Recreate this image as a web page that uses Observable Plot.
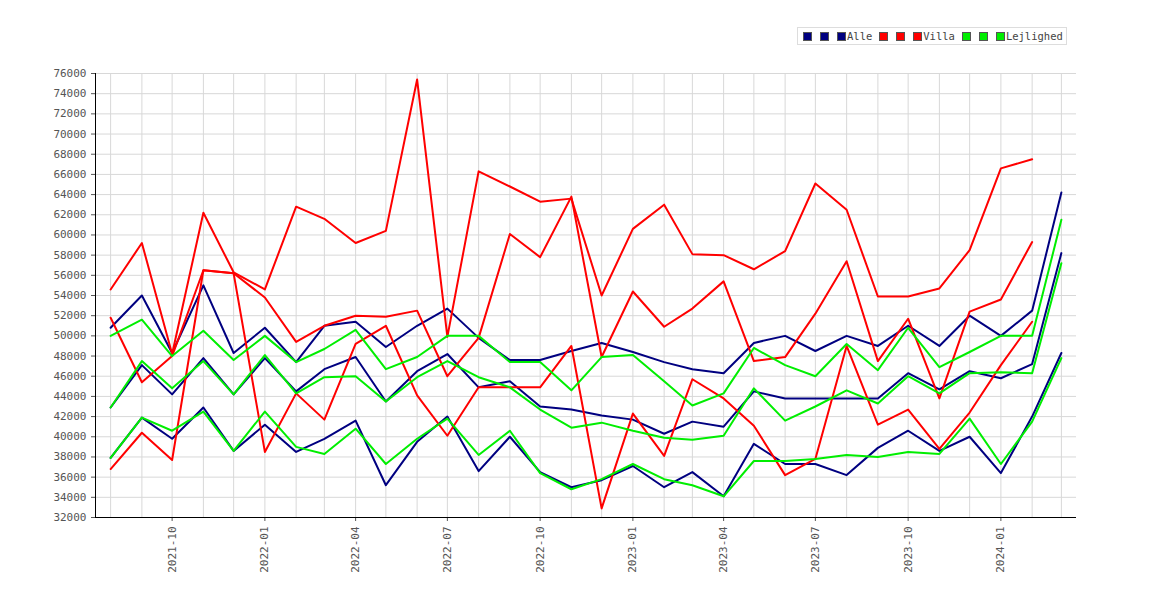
<!DOCTYPE html>
<html><head><meta charset="utf-8">
<script src="https://cdn.jsdelivr.net/npm/d3@7"></script>
<script src="https://cdn.jsdelivr.net/npm/@observablehq/plot@0.6"></script>
<style>
body{margin:0;background:#fff;font-family:"DejaVu Sans Mono",monospace;}
#wrap{position:relative;width:1170px;height:600px;}
#legend{position:absolute;left:797px;top:27px;border:1px solid #ddd;padding:2px 3px;font-size:10.5px;color:#444;display:flex;align-items:center;background:#fff;}
#legend span.sw{display:inline-block;width:7px;height:7px;border:1px solid #555;margin:0 1px 0 7px;}
#legend span.sw:first-child{margin-left:2px;}
</style></head><body>
<div id="wrap"><div id="chart"></div><div id="legend"></div></div>
<script>
const startMonth = "2021-08";
const alleHigh = [50.8,54.0,48.3,55.0,48.3,50.8,47.4,51.0,51.4,48.9,51.0,52.7,49.8,47.6,47.6,48.5,49.3,48.4,47.4,46.7,46.3,49.3,50.0,48.5,50.0,49.0,51.0,49.0,52.0,50.0,52.5,64.2];
const alleMid = [42.9,47.1,44.2,47.8,44.2,47.8,44.5,46.7,47.9,43.5,46.5,48.2,44.9,45.5,43.0,42.7,42.1,41.7,40.3,41.5,41.0,44.5,43.8,43.8,43.8,43.8,46.3,44.7,46.5,45.8,47.2,58.2];
const alleLow = [37.9,41.9,39.8,42.9,38.6,41.2,38.5,39.8,41.6,35.2,39.5,42.0,36.6,40.0,36.5,35.0,35.7,37.1,35.0,36.5,34.1,39.3,37.3,37.3,36.2,38.9,40.6,38.6,40.0,36.4,42.0,48.3];
const villaHigh = [54.6,59.2,48.2,62.2,56.3,54.6,62.8,61.6,59.2,60.4,75.4,49.9,66.3,64.8,63.3,63.6,54.0,60.6,63.0,58.1,58.0,56.6,58.4,65.1,62.5,53.9,53.9,54.7,58.5,66.6,67.5,null];
const villaMid = [51.8,45.4,48.0,56.5,56.2,53.8,49.4,51.0,52.0,51.9,52.5,46.0,49.8,60.1,57.8,63.8,47.9,54.4,50.9,52.7,55.4,47.5,47.9,52.2,57.4,47.5,51.7,43.8,52.4,53.6,59.3,null];
const villaLow = [36.8,40.4,37.7,56.5,56.2,38.5,44.3,41.7,49.2,51.0,44.1,40.1,44.9,44.9,44.9,49.0,32.9,42.3,38.1,45.7,43.8,41.1,36.2,37.8,49.0,41.2,42.7,38.8,42.4,47.1,51.4,null];
const lejHigh = [50.0,51.6,48.0,50.5,47.6,50.0,47.4,48.7,50.6,46.7,47.9,50.0,50.0,47.4,47.4,44.6,47.9,48.1,45.5,43.1,44.3,48.8,47.1,46.0,49.2,46.6,50.8,46.9,48.4,50.0,50.0,61.5];
const lejMid = [42.9,47.5,44.8,47.5,44.2,48.1,44.3,45.9,46.0,43.5,45.9,47.5,45.9,44.9,42.7,40.9,41.4,40.6,39.9,39.7,40.1,44.8,41.6,43.0,44.6,43.3,46.0,44.3,46.3,46.4,46.3,57.2];
const lejLow = [37.9,41.9,40.6,42.5,38.6,42.5,39.0,38.3,40.8,37.3,39.8,41.8,38.2,40.6,36.4,34.8,35.8,37.3,35.8,35.2,34.1,37.6,37.6,37.8,38.2,38.0,38.5,38.3,41.8,37.3,41.5,47.8];

const series = [
  {name:"", color:"#000080", v:alleHigh},{name:"", color:"#000080", v:alleMid},{name:"Alle", color:"#000080", v:alleLow},
  {name:"", color:"#ff0000", v:villaHigh},{name:"", color:"#ff0000", v:villaMid},{name:"Villa", color:"#ff0000", v:villaLow},
  {name:"", color:"#00ee00", v:lejHigh},{name:"", color:"#00ee00", v:lejMid},{name:"Lejlighed", color:"#00ee00", v:lejLow}
];
const t0 = new Date(startMonth+"-01T00:00:00Z");
const months = alleHigh.map((_,i)=>d3.utcMonth.offset(t0,i));
const rows = [];
series.forEach((s,k)=>s.v.forEach((v,i)=>{ if(v!=null) rows.push({k, date:months[i], value:v*1000, color:s.color}); }));

const xDomain = [d3.utcDay.offset(months[0],-15), d3.utcDay.offset(months[months.length-1],15)];
const yTicks = d3.range(32000,76001,2000);
const allMonths = d3.utcMonth.range(d3.utcMonth.ceil(xDomain[0]), xDomain[1]);
const qTicks = allMonths.filter(d=>d.getUTCMonth()%3===0);

const chart = Plot.plot({
  width:1170, height:600,
  marginLeft:95, marginRight:94, marginTop:73, marginBottom:83,
  style:{fontFamily:"DejaVu Sans Mono, monospace", fontSize:"10px", color:"#555"},
  x:{type:"utc", domain:xDomain, label:null},
  y:{domain:[32000,76000], label:null},
  marks:[
    Plot.gridX(allMonths,{stroke:"#d8d8d8", strokeOpacity:1}),
    Plot.gridY(yTicks,{stroke:"#d8d8d8", strokeOpacity:1}),
    Plot.axisY({ticks:yTicks, tickFormat:d=>String(d), tickSize:4, fontSize:11}),
    Plot.axisX({ticks:qTicks, tickFormat:d3.utcFormat("%Y-%m"), tickRotate:-90, tickSize:4, textAnchor:"end", dy:0, fontSize:11}),
    Plot.ruleX([xDomain[0]],{stroke:"#000"}),
    Plot.ruleY([32000],{stroke:"#000"}),
    Plot.line(rows,{x:"date", y:"value", z:"k", stroke:"color", strokeWidth:2})
  ]
});
document.getElementById("chart").append(chart);
const lg = document.getElementById("legend");
series.forEach(s=>{
  const sw=document.createElement("span"); sw.className="sw"; sw.style.background=s.color; lg.append(sw);
  if(s.name){const t=document.createElement("span"); t.textContent=s.name; lg.append(t);}
});
</script></body></html>
